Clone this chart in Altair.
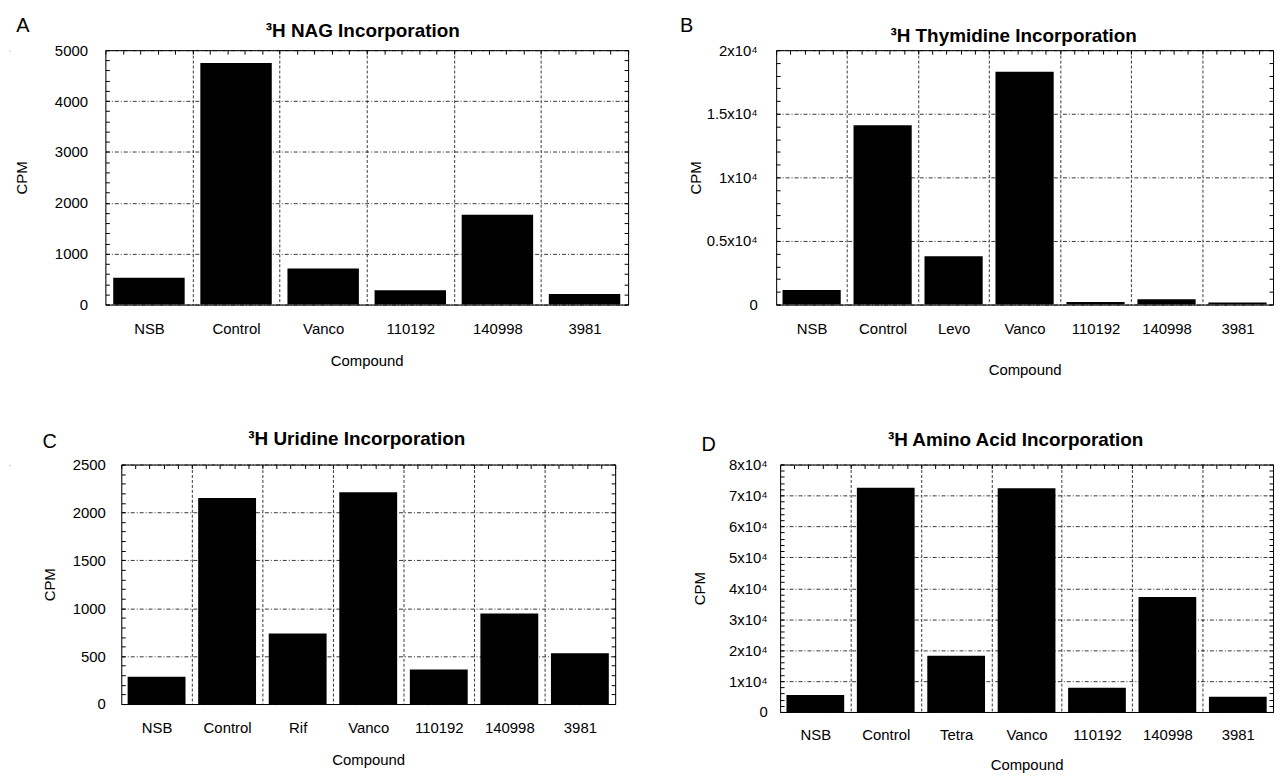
import altair as alt
import pandas as pd

FONT = "Liberation Sans"

# ---- data ----
nag_compounds = ["NSB", "Control", "Vanco", "110192", "140998", "3981"]
nag_cpm = [525, 4750, 710, 280, 1765, 205]

thy_compounds = ["NSB", "Control", "Levo", "Vanco", "110192", "140998", "3981"]
thy_cpm = [1150, 14100, 3800, 18300, 210, 420, 160]

uri_compounds = ["NSB", "Control", "Rif", "Vanco", "110192", "140998", "3981"]
uri_cpm = [285, 2150, 735, 2210, 360, 945, 530]

aa_compounds = ["NSB", "Control", "Tetra", "Vanco", "110192", "140998", "3981"]
aa_cpm = [5500, 72500, 18200, 72300, 7800, 37200, 4900]

# axis tick values
nag_major = [0, 1000, 2000, 3000, 4000, 5000]
nag_minor = list(range(0, 5001, 200))
thy_major = [0, 5000, 10000, 15000, 20000]
thy_minor = list(range(0, 20001, 1000))
uri_major = [0, 500, 1000, 1500, 2000, 2500]
uri_minor = list(range(0, 2501, 100))
aa_major = [0, 10000, 20000, 30000, 40000, 50000, 60000, 70000, 80000]
aa_minor = list(range(0, 80001, 2000))

PLAIN = "format(datum.value, 'd')"
SCI = "datum.value == 0 ? '0' : (datum.value / 10000) + 'x10\u2074'"


def text_layer(txt, x, y, size, weight="normal", opacity=1.0, align="center"):
    return alt.Chart(pd.DataFrame({"t": [txt]})).mark_text(
        align=align, baseline="middle", font=FONT, fontSize=size,
        fontWeight=weight, color="black", opacity=opacity
    ).encode(text="t:N", x=alt.value(x), y=alt.value(y))


def anchor(x, y, txt="."):
    # invisible, fixes a panel's outer extent for the concat layout
    return text_layer(txt, x, y, 1, opacity=0).encode(
        color=alt.value("white"))


def panel(p):
    cats, vals, major, minor = p["cats"], p["vals"], p["major"], p["minor"]
    W, H = p["W"], p["H"]
    n = len(cats)
    df = pd.DataFrame({"compound": cats, "cpm": vals, "idx": list(range(n))})
    base = alt.Chart(df).transform_calculate(
        x0="datum.idx + 0.09", x1="datum.idx + 0.91"
    )
    xs = alt.Scale(domain=[0, n], nice=False, zero=False)
    ys = alt.Scale(domain=[major[0], major[-1]], nice=False)
    names = "[" + ",".join("'%s'" % c for c in cats) + "]"

    common = dict(labelFont=FONT, titleFont=FONT, labelColor="black",
                  titleColor="black", domainColor="black",
                  tickColor="black", gridColor="#222222")

    bars = base.mark_bar(color="black").encode(
        x=alt.X("x0:Q", scale=xs, axis=alt.Axis(
            orient="bottom", values=[i + 0.5 for i in range(n)],
            labelExpr=names + "[floor(datum.value)]", title="Compound",
            ticks=False, tickSize=0, grid=False, labelPadding=p["lpad"],
            labelFontSize=15, titleFontSize=15, titleFontWeight="normal",
            titlePadding=p["tpad"], labelAngle=0, domainWidth=1, **common)),
        x2="x1:Q",
        y=alt.Y("cpm:Q", scale=ys, axis=alt.Axis(
            orient="left", values=major, labelExpr=p["fmt"], title="CPM",
            grid=True, gridDash=[4, 2, 1, 2], gridWidth=0.9,
            ticks=False, tickSize=0, labelPadding=p["ypad"],
            labelFontSize=15, titleFontSize=15, titleFontWeight="normal",
            titleX=p["ytx"], titleY=H / 2, titleBaseline="middle",
            domainWidth=1, **common)),
        y2=alt.datum(0),
    )

    grid_layer = base.mark_bar(opacity=0).encode(
        x=alt.X("x0:Q", scale=xs, axis=alt.Axis(
            orient="bottom", values=list(range(1, n)), labels=False,
            ticks=False, tickSize=0, domain=False, grid=True,
            gridDash=[3, 2], gridWidth=0.9, title=None, **common)),
        x2="x1:Q",
        y=alt.Y("cpm:Q", scale=ys, axis=alt.Axis(
            orient="right", offset=-W, values=minor, labels=False,
            ticks=True, tickSize=4, domain=False, grid=False, title=None,
            **common)),
        y2=alt.datum(0),
    )

    frame_layer = base.mark_bar(opacity=0).encode(
        x=alt.X("x0:Q", scale=xs, axis=alt.Axis(
            orient="bottom", offset=-H,
            values=[k / 5 for k in range(5 * n + 1)], labels=False,
            ticks=True, tickSize=4, domain=True, domainWidth=1, grid=False,
            title=None, **common)),
        x2="x1:Q",
        y=alt.Y("cpm:Q", scale=ys, axis=alt.Axis(
            orient="left", offset=-W, values=minor, labels=False,
            ticks=True, tickSize=4, domain=True, domainWidth=1, grid=False,
            title=None, **common)),
        y2=alt.datum(0),
    )

    letter = text_layer(p["letter"], p["lx"], p["ly"], 20)
    title = text_layer(p["title"], p["tx"], p["ty"], 19, weight="bold")

    return alt.layer(
        grid_layer, frame_layer, bars, letter, title,
        anchor(-p["ext_l"], H / 2), anchor(0, -p["ext_t"]),
        anchor(0, H + p["ext_b"]),
    ).resolve_axis(x="independent", y="independent").properties(
        width=W, height=H)


def spacer():
    return anchor(0, 0, txt="").properties(width=1, height=1)


A = panel(dict(letter="A", title="\u00b3H NAG Incorporation",
               cats=nag_compounds, vals=nag_cpm, major=nag_major,
               minor=nag_minor, fmt=PLAIN, W=526, H=256,
               lx=-83, ly=-24, tx=259, ty=-19, ytx=-84, ypad=18,
               lpad=17, tpad=17, ext_l=94, ext_t=38, ext_b=78))
B = panel(dict(letter="B", title="\u00b3H Thymidine Incorporation",
               cats=thy_compounds, vals=thy_cpm, major=thy_major,
               minor=thy_minor, fmt=SCI, W=500, H=256,
               lx=-90, ly=-24, tx=239, ty=-14, ytx=-81, ypad=19,
               lpad=17, tpad=26, ext_l=146.5, ext_t=38, ext_b=78))
C = panel(dict(letter="C", title="\u00b3H Uridine Incorporation",
               cats=uri_compounds, vals=uri_cpm, major=uri_major,
               minor=uri_minor, fmt=PLAIN, W=497, H=241,
               lx=-72, ly=-23, tx=237, ty=-26, ytx=-72, ypad=16,
               lpad=17, tpad=17, ext_l=110, ext_t=35, ext_b=60))
D = panel(dict(letter="D", title="\u00b3H Amino Acid Incorporation",
               cats=aa_compounds, vals=aa_cpm, major=aa_major,
               minor=aa_minor, fmt=SCI, W=496, H=249,
               lx=-72, ly=-20, tx=237, ty=-25, ytx=-81, ypad=13,
               lpad=16, tpad=15, ext_l=163.5, ext_t=35, ext_b=55))

chart = alt.vconcat(
    alt.hconcat(spacer(), A, B, spacing=0),
    alt.hconcat(spacer(), C, D, spacing=0),
    spacing=45,
).properties(padding=0).configure_view(stroke=None).configure(font=FONT)

chart.save("out.html", embed_options={"renderer": "svg", "actions": False})
